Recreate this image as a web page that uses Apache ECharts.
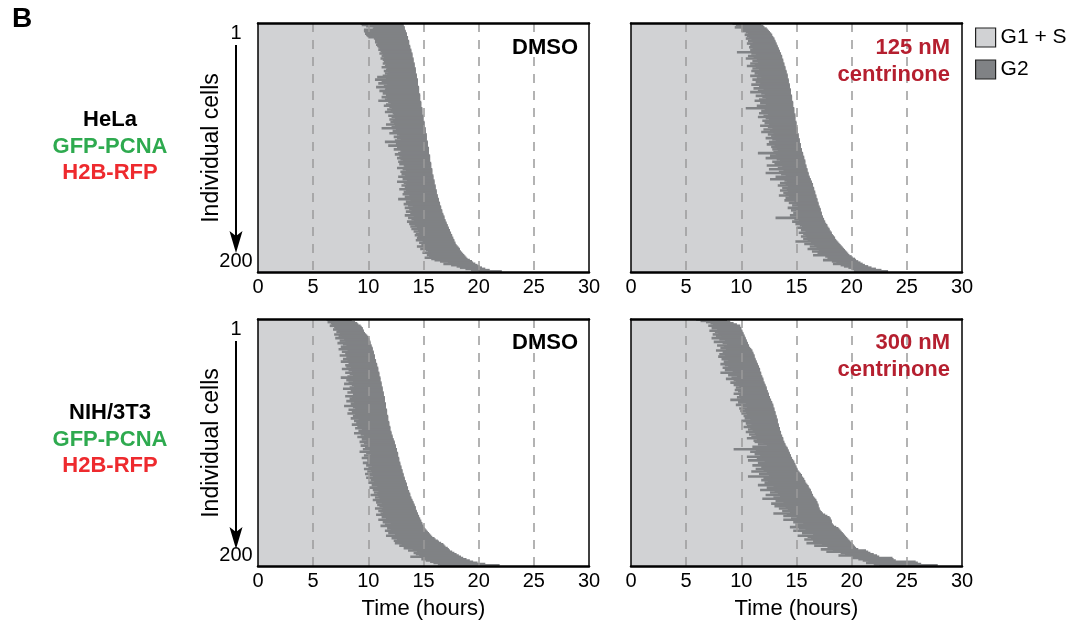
<!DOCTYPE html>
<html><head><meta charset="utf-8">
<script src="https://cdn.jsdelivr.net/npm/echarts@6/dist/echarts.min.js"></script>
<style>html,body{margin:0;padding:0;background:#fff}#c{width:1074px;height:628px}</style>
</head><body><div id="c"></div>
<script>
// ---------- data (hours; cells sorted by total cycle time) ----------
const cellLabels = Array.from({length: 200}, (_, i) => String(i + 1));
const xTickMax = 30;
const xTickStep = 5;
const guideHours = [5, 10, 15, 20, 25];
const phaseNames = ['G1 + S', 'G2'];

// HeLa DMSO: end of G1+S (start of G2) and end of G2
const helaDmsoG2Start = [
9.3,9.4,9.8,10.5,10.4,9.6,9.6,9.7,9.7,9.8, 9.9,10.0,10.5,10.6,10.7,10.6,10.8,10.7,10.8,10.9,
11.0,10.9,11.1,11.2,11.0,11.3,11.2,11.4,11.1,11.3, 11.5,11.4,11.3,11.6,11.5,11.2,11.7,11.6,11.4,11.8,
11.5,11.7,11.3,10.8,11.6,10.6,11.2,11.5,10.9,11.7, 11.4,10.7,11.6,11.5,11.0,11.8,11.3,11.6,11.9,11.2,
11.7,11.5,10.9,11.8,12.0,11.6,11.4,11.9,12.1,11.7, 12.0,11.5,12.2,12.3,11.8,12.1,12.4,11.9,12.2,12.0,
12.3,11.6,12.4,12.1,11.2,12.5,12.2,12.7,11.9,12.6, 12.8,12.3,12.6,12.9,12.4,11.5,12.7,12.5,11.8,12.9,
12.6,12.3,12.9,13.0,12.7,12.4,12.8,13.0,12.6,12.9, 13.1,12.7,13.0,12.8,13.2,13.3,12.6,13.1,13.4,12.9,
13.2,13.0,13.3,12.7,13.4,13.1,13.5,12.6,13.2,13.4, 13.0,13.3,13.5,12.8,13.4,13.2,13.6,13.1,13.7,13.3,
13.5,12.7,13.8,13.4,13.9,13.2,13.6,14.0,13.3,13.7, 13.9,13.4,14.0,13.8,13.3,14.1,13.6,13.9,14.1,13.5,
14.0,13.7,14.2,13.8,14.4,13.9,14.5,14.1,14.6,14.3, 14.2,14.5,14.4,14.7,14.3,14.9,14.6,15.0,14.8,14.4,
15.0,14.7,15.2,15.4,14.9,15.6,15.3,15.5,15.1,15.7, 16.0,16.5,17.2,16.8,17.5,18.0,18.3,18.8,19.3,20.0];
const helaDmsoG2End = [
13.1,13.2,13.2,13.3,13.3,13.3,13.4,13.4,13.5,13.5, 13.5,13.6,13.6,13.6,13.7,13.7,13.7,13.7,13.8,13.8,
13.8,13.9,13.9,13.9,14.0,14.0,14.0,14.0,14.1,14.1, 14.1,14.1,14.2,14.2,14.2,14.2,14.3,14.3,14.3,14.3,
14.3,14.4,14.4,14.4,14.4,14.5,14.5,14.5,14.5,14.5, 14.5,14.6,14.6,14.6,14.6,14.6,14.6,14.7,14.7,14.7,
14.7,14.7,14.7,14.8,14.8,14.8,14.8,14.8,14.9,14.9, 14.9,14.9,14.9,14.9,15.0,15.0,15.0,15.0,15.0,15.1,
15.1,15.1,15.1,15.1,15.2,15.2,15.2,15.2,15.2,15.3, 15.3,15.3,15.3,15.3,15.3,15.4,15.4,15.4,15.4,15.4,
15.5,15.5,15.5,15.5,15.5,15.5,15.6,15.6,15.6,15.6, 15.6,15.6,15.7,15.7,15.7,15.7,15.7,15.8,15.8,15.8,
15.8,15.8,15.9,15.9,15.9,15.9,16.0,16.0,16.0,16.0, 16.1,16.1,16.1,16.1,16.2,16.2,16.2,16.2,16.3,16.3,
16.3,16.4,16.4,16.4,16.5,16.5,16.5,16.6,16.6,16.6, 16.7,16.7,16.7,16.8,16.8,16.9,16.9,16.9,17.0,17.0,
17.1,17.1,17.2,17.2,17.3,17.3,17.4,17.4,17.5,17.5, 17.6,17.6,17.7,17.7,17.8,17.8,17.9,17.9,18.0,18.1,
18.2,18.3,18.3,18.4,18.5,18.6,18.7,18.8,18.9,19.0, 19.2,19.4,19.5,19.7,19.9,20.1,20.3,20.6,21.0,22.1];

// HeLa 125 nM centrinone
const helaCenG2Start = [
9.2,9.5,9.8,9.4,10.0,10.2,10.0,10.4,10.6,10.3, 10.5,10.7,10.4,10.9,10.6,11.0,10.5,10.8,11.1,10.7,
11.0,10.8,11.2,9.6,10.9,11.3,10.6,11.1,10.4,11.4, 11.0,11.5,10.8,11.2,10.5,11.3,11.0,11.6,10.9,11.7,
11.2,11.5,10.8,11.8,11.4,11.0,11.9,11.3,11.7,10.9, 11.6,11.9,11.1,12.0,11.5,10.8,11.8,12.1,11.3,11.9,
12.2,11.6,11.2,12.0,11.7,12.2,11.4,11.9,10.4,12.1, 11.8,12.3,11.6,12.4,12.0,11.5,12.2,12.5,11.9,12.3,
12.1,12.5,11.7,12.4,12.8,12.0,12.6,11.8,12.9,12.4, 12.7,13.0,12.2,12.8,13.1,12.5,12.9,12.3,13.0,12.7,
13.2,12.8,13.3,12.9,11.5,13.1,12.6,13.4,12.2,13.2, 13.5,12.8,13.6,13.0,12.3,13.7,13.3,12.5,13.8,13.4,
12.2,13.6,14.0,13.1,13.8,12.6,13.9,14.1,13.5,14.0, 13.3,14.2,13.7,14.1,13.5,14.2,13.8,14.0,13.4,14.3,
14.0,14.5,13.9,14.8,14.3,15.0,14.6,15.1,14.2,14.9, 14.5,15.0,14.7,15.2,14.4,15.1,13.1,14.8,15.2,14.6,
15.0,14.9,15.3,15.5,15.0,15.7,15.4,15.8,15.2,15.6, 15.8,15.4,15.9,15.6,16.0,14.9,16.3,15.7,16.6,16.2,
16.8,16.0,17.0,16.4,16.9,17.3,16.5,17.6,17.8,18.0, 17.4,18.2,18.6,18.3,19.0,19.3,19.7,20.0,20.3,20.2];
const helaCenG2End = [
11.6,11.8,12.0,12.1,12.3,12.4,12.5,12.6,12.7,12.8, 12.8,12.9,13.0,13.0,13.1,13.1,13.2,13.2,13.3,13.3,
13.4,13.4,13.5,13.5,13.6,13.6,13.7,13.7,13.7,13.8, 13.8,13.8,13.9,13.9,13.9,14.0,14.0,14.0,14.1,14.1,
14.1,14.2,14.2,14.2,14.2,14.3,14.3,14.3,14.3,14.4, 14.4,14.4,14.4,14.5,14.5,14.5,14.5,14.5,14.6,14.6,
14.6,14.6,14.6,14.7,14.7,14.7,14.7,14.7,14.8,14.8, 14.8,14.8,14.8,14.9,14.9,14.9,14.9,14.9,14.9,15.0,
15.0,15.0,15.0,15.0,15.1,15.1,15.1,15.1,15.1,15.2, 15.2,15.2,15.2,15.3,15.3,15.3,15.3,15.4,15.4,15.4,
15.4,15.5,15.5,15.5,15.6,15.6,15.6,15.7,15.7,15.7, 15.8,15.8,15.8,15.8,15.9,15.9,15.9,16.0,16.0,16.0,
16.1,16.1,16.1,16.2,16.2,16.3,16.3,16.4,16.4,16.5, 16.5,16.5,16.6,16.6,16.6,16.7,16.7,16.7,16.8,16.8,
16.8,16.9,16.9,16.9,17.0,17.0,17.0,17.1,17.1,17.2, 17.2,17.2,17.3,17.3,17.3,17.4,17.4,17.5,17.5,17.6,
17.6,17.7,17.8,17.8,17.9,18.0,18.0,18.1,18.2,18.2, 18.3,18.4,18.5,18.5,18.6,18.7,18.8,18.9,19.0,19.1,
19.2,19.3,19.4,19.5,19.6,19.7,19.8,20.0,20.1,20.3, 20.4,20.6,20.8,21.0,21.2,21.5,21.8,22.2,22.7,23.3];

// NIH/3T3 DMSO
const nihDmsoG2Start = [
6.2,6.4,6.3,6.6,6.7,6.5,6.9,7.0,6.8,7.2, 7.1,7.4,6.9,7.3,7.6,7.0,7.8,7.4,7.9,7.2,
7.7,8.0,7.5,7.8,7.3,8.1,7.6,8.2,7.9,7.4, 8.0,8.3,7.7,8.1,7.5,8.2,8.3,7.9,8.0,8.4,
7.6,8.2,8.5,7.9,8.3,8.6,8.1,7.5,8.4,8.0, 8.6,8.2,7.8,8.5,8.7,8.3,7.7,8.8,8.4,8.1,
8.6,8.8,7.9,8.5,8.3,8.9,8.0,8.7,8.4,8.9, 7.8,8.6,8.8,8.2,8.9,8.5,8.1,8.8,8.6,9.0,
8.4,9.1,8.7,9.2,8.9,8.5,9.3,9.0,8.8,9.4, 9.1,9.5,8.7,9.3,9.6,9.0,9.7,9.4,9.8,9.2,
9.6,9.9,9.3,10.0,9.7,9.5,10.1,9.2,9.8,10.2, 9.6,10.0,9.4,10.3,9.9,10.1,9.5,10.2,9.8,10.3,
10.0,9.6,10.2,9.9,10.3,9.7,10.1,10.4,9.8,10.3, 10.2,10.5,10.0,10.6,10.3,10.8,10.1,10.7,10.4,10.9,
10.5,10.8,10.2,10.9,10.6,11.0,10.4,11.1,10.7,11.2, 10.8,11.0,11.3,10.6,11.2,10.9,11.3,11.1,10.7,11.4,
11.2,11.6,10.9,11.8,11.3,12.0,11.5,11.1,11.9,11.7, 12.0,11.5,12.2,11.8,12.4,11.6,12.5,12.1,12.6,12.3,
12.7,12.4,13.0,12.8,13.5,13.2,14.0,13.6,14.4,14.1, 14.3,14.6,13.8,15.0,14.8,15.2,15.6,15.9,16.3,16.5];
const nihDmsoG2End = [
8.3,8.5,8.8,9.0,9.1,9.3,9.4,9.5,9.5,9.6, 9.6,9.7,9.8,9.9,10.0,10.0,10.1,10.1,10.2,10.2,
10.2,10.3,10.3,10.4,10.4,10.4,10.5,10.5,10.5,10.6, 10.6,10.6,10.6,10.7,10.7,10.7,10.8,10.8,10.8,10.9,
10.9,10.9,10.9,11.0,11.0,11.0,11.0,11.1,11.1,11.1, 11.1,11.2,11.2,11.2,11.2,11.3,11.3,11.3,11.3,11.4,
11.4,11.4,11.4,11.5,11.5,11.5,11.5,11.5,11.6,11.6, 11.6,11.6,11.6,11.7,11.7,11.7,11.7,11.7,11.8,11.8,
11.8,11.8,11.8,11.9,11.9,11.9,11.9,12.0,12.0,12.0, 12.0,12.1,12.1,12.1,12.2,12.2,12.2,12.3,12.3,12.4,
12.4,12.4,12.5,12.5,12.5,12.6,12.6,12.6,12.7,12.7, 12.7,12.7,12.8,12.8,12.8,12.8,12.9,12.9,12.9,13.0,
13.0,13.0,13.1,13.1,13.1,13.2,13.2,13.2,13.3,13.3, 13.3,13.4,13.4,13.5,13.5,13.5,13.6,13.6,13.6,13.7,
13.7,13.8,13.8,13.8,13.9,13.9,14.0,14.0,14.1,14.1, 14.2,14.2,14.3,14.3,14.3,14.4,14.4,14.5,14.5,14.6,
14.6,14.7,14.7,14.8,14.8,14.9,14.9,15.0,15.0,15.1, 15.2,15.3,15.4,15.5,15.6,15.7,15.8,16.0,16.1,16.3,
16.4,16.6,16.8,16.9,17.0,17.2,17.3,17.4,17.6,17.8, 18.0,18.2,18.4,18.6,18.9,19.2,19.5,19.9,20.6,21.9];

// NIH/3T3 300 nM centrinone
const nihCenG2Start = [
5.9,6.3,6.8,7.2,7.4,7.0,7.5,7.3,7.8,7.1, 7.6,7.9,7.4,7.7,8.2,7.3,8.0,8.5,7.5,8.3,
8.7,7.8,8.4,8.1,8.6,7.7,8.3,8.8,8.0,8.5, 7.9,8.6,8.2,8.8,8.4,8.7,8.1,8.5,8.8,8.3,
9.0,8.5,9.2,8.1,9.4,8.8,9.6,9.1,8.6,9.3, 9.5,9.0,9.7,9.3,9.8,9.5,10.0,9.4,9.7,9.9,
9.3,9.8,10.0,9.6,9.9,9.0,10.2,9.7,10.4,9.5, 10.1,10.5,9.8,10.3,9.9,10.4,10.0,10.5,10.2,10.6,
10.3,10.8,10.0,10.7,10.4,10.9,10.5,10.2,10.8,10.6, 11.0,10.4,11.2,10.7,11.3,10.9,10.5,11.4,11.1,11.2,
12.0,11.5,12.3,11.0,11.7,9.3,11.3,10.8,11.6,11.2, 11.7,10.5,11.4,11.9,10.6,12.1,11.5,12.3,11.0,11.8,
12.2,11.3,12.0,10.9,12.3,11.6,12.5,10.6,12.0,12.7, 11.8,12.4,12.1,12.7,11.5,12.9,12.3,13.2,11.7,13.0,
12.6,13.3,12.2,13.5,12.9,11.9,13.4,13.1,13.8,12.7, 13.6,13.0,14.0,13.4,14.2,13.7,14.4,12.9,14.1,13.8,
15.0,14.5,13.8,15.3,14.7,15.6,14.9,15.9,14.4,15.2, 15.8,14.7,16.2,15.5,16.5,15.1,16.0,16.3,15.7,16.5,
16.9,15.9,17.3,16.6,17.8,18.0,17.2,18.3,17.7,19.0, 19.4,18.8,20.1,20.0,20.6,21.0,21.5,21.3,22.0,22.5];
const nihCenG2End = [
8.4,8.7,9.0,9.3,9.6,9.9,9.9,10.0,10.0,10.1, 10.1,10.2,10.2,10.3,10.3,10.4,10.4,10.5,10.5,10.6,
10.6,10.7,10.7,10.8,10.9,11.0,11.0,11.1,11.1,11.2, 11.2,11.2,11.3,11.3,11.4,11.4,11.5,11.5,11.6,11.6,
11.7,11.7,11.7,11.8,11.8,11.8,11.9,11.9,12.0,12.0, 12.0,12.1,12.1,12.2,12.2,12.3,12.3,12.3,12.4,12.4,
12.5,12.5,12.5,12.6,12.6,12.7,12.7,12.8,12.8,12.9, 12.9,12.9,13.0,13.0,13.0,13.1,13.1,13.1,13.2,13.2,
13.2,13.3,13.3,13.3,13.3,13.4,13.4,13.4,13.5,13.5, 13.5,13.6,13.6,13.6,13.7,13.7,13.8,13.8,13.8,13.9,
13.9,14.0,14.0,14.1,14.2,14.2,14.3,14.3,14.4,14.4, 14.5,14.5,14.6,14.6,14.7,14.8,14.8,14.9,14.9,15.0,
15.0,15.1,15.1,15.2,15.3,15.4,15.5,15.5,15.6,15.7, 15.7,15.8,15.8,15.9,16.0,16.1,16.1,16.2,16.3,16.3,
16.4,16.4,16.5,16.5,16.6,16.7,16.8,16.8,16.9,16.9, 17.0,17.0,17.0,17.1,17.1,17.2,17.3,17.4,17.6,17.8,
18.0,18.1,18.1,18.2,18.2,18.2,18.3,18.4,18.6,18.8, 18.9,19.0,19.1,19.2,19.3,19.4,19.5,19.6,19.7,19.8,
19.9,20.0,20.1,20.2,20.3,20.4,20.6,21.3,21.5,21.7, 22.0,22.3,22.5,23.7,23.8,24.0,25.8,26.0,26.3,27.8];

// ---------- styling / layout ----------
const FONT = "'Liberation Sans', Arial, Helvetica, sans-serif";
const LIGHT = '#d1d2d4';
const DARK = '#808285';
const GUIDE = '#9a9a9a';
const RED = '#ee2a2e';
const GREEN = '#2eaa4f';
const CRIMSON = '#b51f2f';

const panels = [
  {start: helaDmsoG2Start, end: helaDmsoG2End, grid: {left: 258, top: 23, width: 331, height: 249}, first: true,  bottom: false},
  {start: helaCenG2Start,  end: helaCenG2End,  grid: {left: 631, top: 23, width: 331, height: 249}, first: false, bottom: false},
  {start: nihDmsoG2Start,  end: nihDmsoG2End,  grid: {left: 258, top: 319, width: 331, height: 247}, first: true,  bottom: true},
  {start: nihCenG2Start,   end: nihCenG2End,   grid: {left: 631, top: 319, width: 331, height: 247}, first: false, bottom: true}
];

const grid = panels.map(p => Object.assign({outerBoundsMode: 'none', containLabel: false}, p.grid));
const xAxis = [];
const yAxis = [];
const series = [];
panels.forEach((p, i) => {
  xAxis[i] = {
    gridIndex: i, type: 'value', min: 0, max: xTickMax, interval: xTickStep, z: 10,
    axisLine: {show: true, onZero: false, lineStyle: {color: '#000', width: 2.5}},
    axisTick: {show: false}, splitLine: {show: false},
    axisLabel: {show: true, margin: 5, fontSize: 20, color: '#000', fontFamily: FONT},
    name: p.bottom ? 'Time (hours)' : '', nameLocation: 'middle', nameGap: 32,
    nameTextStyle: {fontSize: 22, color: '#000', fontFamily: FONT}
  };
  xAxis[i + 4] = {
    gridIndex: i, type: 'value', position: 'top', min: 0, max: xTickMax, z: 10,
    axisLine: {show: true, onZero: false, lineStyle: {color: '#000', width: 2.5}},
    axisTick: {show: false}, splitLine: {show: false}, axisLabel: {show: false}
  };
  yAxis[i] = {
    gridIndex: i, type: 'category', data: cellLabels, inverse: true, z: 10,
    axisLine: {show: true, onZero: false, lineStyle: {color: '#000', width: 1.5}},
    axisTick: {show: false}, splitLine: {show: false},
    axisLabel: {
      show: p.first, interval: (idx) => idx === 0 || idx === cellLabels.length - 1,
      align: 'center', margin: 22, fontSize: 20, color: '#000', fontFamily: FONT,
      verticalAlignMinLabel: 'top', verticalAlignMaxLabel: 'bottom'
    }
  };
  yAxis[i + 4] = {
    gridIndex: i, type: 'value', position: 'right', z: 10,
    axisLine: {show: true, onZero: false, lineStyle: {color: '#000', width: 1.5}},
    axisTick: {show: false}, splitLine: {show: false}, axisLabel: {show: false}
  };
  series.push({
    type: 'bar', name: phaseNames[0], xAxisIndex: i, yAxisIndex: i, stack: 'p' + i,
    data: p.start, barWidth: 2.6, silent: true, clip: true,
    itemStyle: {color: LIGHT}
  });
  series.push({
    type: 'bar', name: phaseNames[1], xAxisIndex: i, yAxisIndex: i, stack: 'p' + i,
    data: p.end.map((e, k) => +(e - p.start[k]).toFixed(2)), barWidth: 2.6, silent: true, clip: true,
    itemStyle: {color: DARK},
    markLine: {
      silent: true, symbol: ['none', 'none'], label: {show: false}, z: 5,
      lineStyle: {type: [9, 8], color: GUIDE, width: 1.5},
      emphasis: {disabled: true},
      data: guideHours.map(v => ({xAxis: v}))
    }
  });
});

function txt(x, y, text, opts) {
  return {type: 'text', x: x, y: y, silent: true, rotation: opts.rotation || 0, z: 20,
    style: {text: text, fill: opts.fill || '#000', font: opts.font,
      align: opts.align || 'center', verticalAlign: 'middle',
      textAlign: opts.align || 'center', textVerticalAlign: 'middle'}};
}
const BOLD22 = 'bold 22px ' + FONT;
const graphic = [
  txt(22, 19, 'B', {font: 'bold 28px ' + FONT}),
  txt(110, 120, 'HeLa', {font: BOLD22}),
  txt(110, 147, 'GFP-PCNA', {font: BOLD22, fill: GREEN}),
  txt(110, 173, 'H2B-RFP', {font: BOLD22, fill: RED}),
  txt(110, 413, 'NIH/3T3', {font: BOLD22}),
  txt(110, 440, 'GFP-PCNA', {font: BOLD22, fill: GREEN}),
  txt(110, 466, 'H2B-RFP', {font: BOLD22, fill: RED}),
  txt(212, 148, 'Individual cells', {font: '23px ' + FONT, rotation: Math.PI / 2}),
  txt(212, 443, 'Individual cells', {font: '23px ' + FONT, rotation: Math.PI / 2}),
  txt(578, 48, 'DMSO', {font: BOLD22, align: 'right'}),
  txt(950, 48, '125 nM', {font: BOLD22, align: 'right', fill: CRIMSON}),
  txt(950, 75, 'centrinone', {font: BOLD22, align: 'right', fill: CRIMSON}),
  txt(578, 343, 'DMSO', {font: BOLD22, align: 'right'}),
  txt(950, 343, '300 nM', {font: BOLD22, align: 'right', fill: CRIMSON}),
  txt(950, 370, 'centrinone', {font: BOLD22, align: 'right', fill: CRIMSON})
];
[0, 296].forEach(dy => {
  graphic.push({type: 'line', silent: true, shape: {x1: 236, y1: 45 + dy, x2: 236, y2: 240 + dy},
    style: {stroke: '#000', lineWidth: 2}});
  graphic.push({type: 'polygon', silent: true,
    shape: {points: [[229.5, 231 + dy], [236, 236 + dy], [242.5, 231 + dy], [236, 253 + dy]]},
    style: {fill: '#000'}});
});

const chart = echarts.init(document.getElementById('c'), null, {renderer: 'canvas'});
chart.setOption({
  animation: false,
  backgroundColor: '#fff',
  grid: grid, xAxis: xAxis, yAxis: yAxis, series: series,
  legend: {
    data: phaseNames, orient: 'vertical', left: 975, top: 27, padding: 0,
    itemWidth: 20, itemHeight: 19, itemGap: 11, icon: 'rect', selectedMode: false,
    itemStyle: {borderColor: '#222', borderWidth: 1.2},
    textStyle: {fontSize: 21, color: '#000', fontFamily: FONT}
  },
  graphic: graphic
});
</script></body></html>
